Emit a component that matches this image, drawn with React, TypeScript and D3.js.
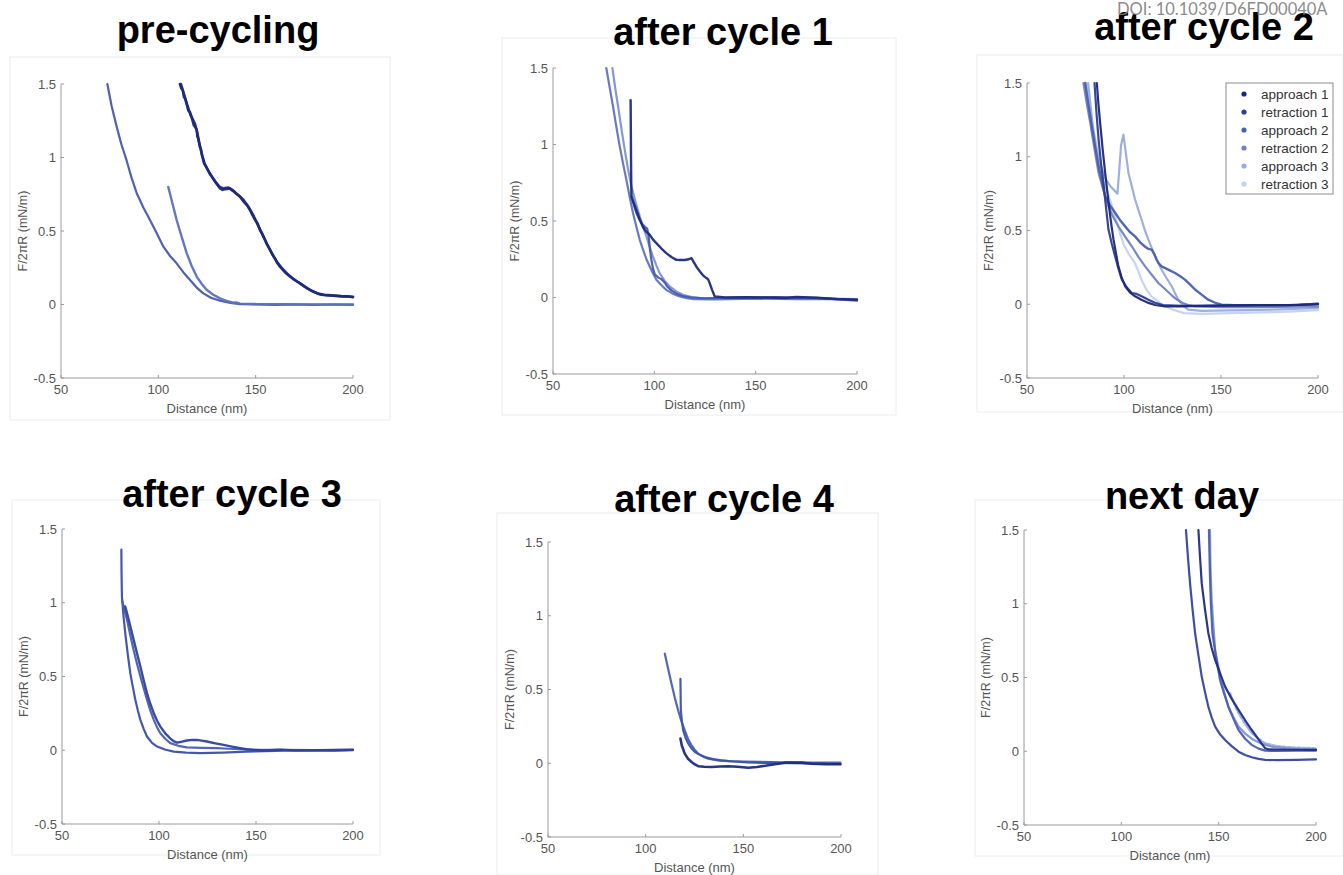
import * as d3 from "d3";
import React from "react";

type Pt = [number, number];

// tick labels
const xTicks = [50, 100, 150, 200];
const yTicks = [1.5, 1, 0.5, 0, -0.5];
const legendNames = ["approach 1", "retraction 1", "approach 2", "retraction 2", "approach 3", "retraction 3"];
const legendColors = ["#1c2878", "#2d3d91", "#4a5fae", "#7083c2", "#98abdc", "#c3d2f0"];

// pre-cycling
const pre_app1: Pt[] = [[111.1,1.5],[111.8,1.47],[112.5,1.46],[113.2,1.41],[113.8,1.4],[115.4,1.32],[116.2,1.31],[117,1.28],[118.2,1.22],[118.8,1.21],[119.7,1.19],[120.1,1.14],[120.5,1.13],[121.4,1.07],[121.8,1.06],[122.2,1.03],[123.5,0.96],[124.5,0.94],[125.3,0.92],[126.5,0.89],[127.5,0.87],[128.5,0.85],[130,0.82],[131.7,0.79],[133,0.78],[134.5,0.785],[136.8,0.79],[138,0.78],[139,0.77],[140,0.755],[142,0.733],[143.2,0.71],[144.5,0.69],[145.6,0.675],[147.1,0.643],[148.3,0.61],[149.5,0.58],[151,0.55],[152.2,0.507],[153.4,0.48],[154.8,0.44],[156,0.405],[157.4,0.371],[158.6,0.34],[160,0.31],[161.2,0.28],[162.5,0.257],[165,0.22],[167.6,0.19],[170.2,0.165],[172.8,0.144],[175.3,0.12],[177.9,0.1],[180.5,0.083],[183,0.069],[186,0.063],[190,0.06],[195,0.054],[197,0.056],[200,0.049]];
const pre_ret1: Pt[] = [[111.6,1.5],[113,1.44],[114.8,1.36],[116.5,1.29],[118.8,1.23],[120,1.17],[121,1.1],[122.6,1.01],[124,0.95],[126,0.9],[129,0.84],[131.5,0.8],[133.5,0.79],[136,0.795],[138.5,0.77],[141,0.745],[143.5,0.715],[146,0.67],[148.5,0.615],[151,0.545],[153.5,0.475],[156,0.405],[158.7,0.34],[161.2,0.285],[164,0.24],[166.5,0.205],[169,0.178],[171.5,0.155],[174,0.133],[176.6,0.11],[179.2,0.09],[182,0.074],[185,0.066],[189,0.062],[194,0.057],[200,0.053]];
const pre_app2: Pt[] = [[73.8,1.5],[76,1.35],[78.6,1.21],[81,1.09],[83.7,0.98],[86.3,0.86],[88.9,0.757],[92.3,0.66],[95.7,0.575],[99,0.49],[102.6,0.393],[106,0.33],[109.4,0.28],[112.8,0.22],[116.3,0.167],[119.7,0.115],[123.1,0.076],[127,0.046],[131.7,0.026],[137,0.01],[142,0.003],[150,0],[160,-0.002],[170,0],[180,-0.002],[190,0],[200,-0.002]];
const pre_ret2: Pt[] = [[105.1,0.8],[107.2,0.69],[109.4,0.575],[112,0.46],[114.6,0.348],[117.2,0.26],[119.7,0.19],[122.3,0.14],[124.8,0.1],[128,0.068],[131.7,0.042],[135,0.025],[138.5,0.012],[140,0.014],[142,0.006],[150,0.003],[165,0.002],[180,0.001],[200,0]];

// after cycle 1
const c1_app1: Pt[] = [[88.3,1.29],[88.4,1.1],[88.5,0.9],[88.6,0.75],[88.7,0.66],[89.8,0.62],[91.1,0.573],[92.8,0.51],[94.4,0.46],[96,0.43],[97.7,0.41],[99.3,0.38],[101,0.355],[103.5,0.32],[105.9,0.29],[108.4,0.265],[110.9,0.246],[113,0.245],[115,0.245],[117,0.25],[118.3,0.257],[119.5,0.23],[120.7,0.203],[122.5,0.17],[124,0.145],[125.7,0.127],[126.5,0.12],[127.3,0.094],[128.5,0.05],[129.8,0.007],[135,0],[145,0.002],[155,0],[165,-0.003],[170,0.003],[180,-0.002],[190,-0.01],[200,-0.015]];
const c1_ret1: Pt[] = [[88.7,0.66],[90,0.6],[91.2,0.55],[92.6,0.51],[94,0.48],[95.5,0.46],[96.5,0.45],[97.2,0.4],[97.8,0.32],[98.5,0.25],[99.3,0.19],[100.3,0.15],[102,0.13],[103.5,0.12],[105,0.1],[106.5,0.07],[108.5,0.045],[111,0.025],[114,0.01],[118,0],[125,-0.005],[140,0],[160,0.002],[180,-0.003],[200,-0.02]];
const c1_app2: Pt[] = [[76.3,1.5],[78,1.37],[79.6,1.25],[81.2,1.12],[82.9,0.99],[84.5,0.88],[86.2,0.77],[87.8,0.66],[89.5,0.55],[91.2,0.46],[92.8,0.377],[94.5,0.31],[96.1,0.25],[98.5,0.18],[101,0.116],[103.5,0.08],[105.9,0.05],[109,0.025],[112.5,0.007],[116,-0.004],[119,-0.01],[130,-0.012],[150,-0.008],[170,-0.01],[185,-0.01],[200,-0.012]];
const c1_ret2: Pt[] = [[79.3,1.5],[80.7,1.37],[82.1,1.25],[83.8,1.1],[85.4,0.965],[87,0.84],[88.7,0.725],[90.8,0.62],[92.8,0.53],[94.5,0.46],[96.1,0.4],[97.7,0.33],[99.3,0.268],[101,0.21],[102.6,0.16],[105,0.11],[107.6,0.072],[110.8,0.04],[114.1,0.018],[118,0.005],[122.4,-0.004],[140,-0.005],[160,-0.004],[180,-0.006],[200,-0.01]];

// after cycle 2
const c2_app1: Pt[] = [[86,1.5],[86.8,1.36],[87.7,1.23],[89,1.05],[90.3,0.89],[91.6,0.74],[92.9,0.596],[93.7,0.52],[94.6,0.438],[95.8,0.35],[97.1,0.257],[98.8,0.18],[100.6,0.122],[103,0.08],[105.7,0.054],[109,0.03],[112.6,0.009],[116,-0.005],[121.1,-0.014],[130,-0.015],[140,-0.012],[150,-0.01],[160,-0.008],[175,-0.006],[190,-0.005],[200,0]];
const c2_ret1: Pt[] = [[84.8,1.5],[85.8,1.3],[86.9,1.116],[88.1,0.96],[89.4,0.82],[90.7,0.66],[92,0.506],[93.7,0.41],[95.4,0.325],[97.2,0.24],[98.9,0.167],[101.4,0.115],[104,0.076],[106.5,0.07],[109.1,0.054],[112.6,0.031],[116,0.01],[120,-0.005],[130,-0.01],[150,-0.008],[170,-0.005],[185,-0.006],[200,0.002]];
const c2_app2: Pt[] = [[80,1.5],[81.7,1.35],[83.4,1.21],[85.1,1.07],[86.9,0.935],[88.6,0.83],[90.3,0.73],[92.8,0.67],[95.4,0.62],[98,0.57],[100.6,0.528],[103,0.49],[105.7,0.46],[108.3,0.42],[110.9,0.39],[112.6,0.375],[114.3,0.37],[115.6,0.34],[116.9,0.3],[118,0.275],[119.4,0.257],[122.8,0.235],[126.3,0.212],[129,0.19],[131.4,0.167],[134,0.135],[136.6,0.1],[140,0.065],[143.4,0.031],[147,0.01],[150.3,-0.003],[160,-0.008],[175,-0.006],[190,-0.004],[200,0.003]];
const c2_ret2: Pt[] = [[79.1,1.5],[80.8,1.36],[82.6,1.23],[84.7,1.06],[86.9,0.89],[89.5,0.77],[92,0.664],[94.5,0.59],[97.1,0.528],[100.5,0.46],[104,0.393],[107.5,0.32],[110.9,0.257],[114.3,0.2],[117.7,0.144],[121.4,0.1],[125.1,0.054],[127.5,0.03],[130.3,0.009],[133,-0.005],[136.6,-0.014],[150,-0.02],[165,-0.02],[180,-0.018],[200,-0.015]];
const c2_app3: Pt[] = [[81.5,1.5],[84,1.2],[87,0.98],[90,0.86],[93,0.8],[96.6,0.75],[97.5,0.9],[98.5,1.08],[99.7,1.15],[101,1.02],[102.3,0.89],[104,0.8],[105.7,0.71],[107.4,0.64],[109.1,0.573],[110.8,0.5],[112.6,0.438],[114.3,0.38],[116,0.325],[117.7,0.28],[119.4,0.234],[122,0.175],[124.6,0.122],[126.3,0.075],[128,0.031],[130.5,-0.01],[133.1,-0.037],[140,-0.045],[155,-0.042],[170,-0.038],[185,-0.033],[200,-0.025]];
const c2_ret3: Pt[] = [[80.5,1.5],[83,1.25],[86,1.0],[89,0.85],[92,0.74],[94,0.66],[96,0.57],[98,0.48],[100,0.4],[102.5,0.34],[105.6,0.28],[107.5,0.22],[109,0.167],[111.5,0.1],[114,0.055],[117.5,0.02],[121,-0.014],[126,-0.04],[131,-0.06],[140,-0.065],[155,-0.06],[170,-0.055],[185,-0.05],[200,-0.04]];

// after cycle 3
const c3_a: Pt[] = [[80.6,1.36],[80.7,1.2],[80.9,1.04],[81.7,0.91],[82.6,0.794],[83.9,0.65],[85.2,0.523],[86.5,0.43],[87.8,0.342],[89.1,0.27],[90.4,0.206],[92.1,0.145],[93.8,0.093],[96.4,0.05],[99,0.025],[103,0.005],[107.6,-0.009],[114,-0.016],[121.3,-0.02],[133,-0.016],[145,-0.009],[160,-0.004],[175,0],[190,-0.002],[200,0]];
const c3_b: Pt[] = [[80.9,1.02],[82.2,0.95],[83.5,0.885],[85.2,0.78],[86.9,0.68],[88.6,0.59],[90.4,0.5],[92.1,0.42],[93.8,0.342],[95.5,0.27],[97.3,0.206],[99,0.155],[100.7,0.115],[103.2,0.078],[105.8,0.048],[110,0.03],[114.4,0.02],[122,0.016],[129.9,0.014],[136,0.01],[141.9,0.007],[150,0.002],[165,0.003],[180,0.001],[200,0.002]];
const c3_c: Pt[] = [[82.6,0.975],[83.5,0.93],[84.4,0.885],[85.6,0.82],[86.9,0.75],[88.6,0.66],[90.4,0.568],[92.1,0.475],[93.8,0.387],[95.5,0.315],[97.3,0.251],[99,0.2],[100.7,0.16],[103.2,0.115],[105.8,0.081],[107.5,0.062],[109.3,0.052],[111.8,0.058],[114.4,0.066],[117,0.07],[119.6,0.07],[122,0.065],[124.7,0.059],[129,0.047],[133.3,0.036],[137.6,0.025],[142,0.014],[145,0.007],[148.8,0.002],[155,-0.002],[162,0.004],[170,-0.002],[185,0],[200,0.003]];

// after cycle 4
const c4_a: Pt[] = [[109.8,0.743],[111.5,0.64],[113.2,0.54],[114.9,0.445],[116.6,0.359],[118.3,0.285],[120,0.223],[121.7,0.165],[123.5,0.121],[125.2,0.09],[126.9,0.065],[129.5,0.045],[132,0.031],[137,0.02],[142.3,0.015],[150,0.012],[159.3,0.009],[170,0.006],[180,0.005],[190,0.004],[199.7,0.005]];
const c4_b: Pt[] = [[117.8,0.573],[117.9,0.46],[118,0.359],[118.6,0.28],[119.2,0.223],[120.5,0.17],[121.8,0.133],[123.5,0.1],[125.2,0.076],[127.7,0.057],[130.3,0.042],[134.5,0.028],[138.8,0.02],[145,0.012],[152,0.006],[160,0.003],[175,0],[190,-0.002],[199.7,-0.005]];
const c4_c: Pt[] = [[117.8,0.167],[118.5,0.12],[120,0.065],[121.7,0.03],[123.5,0.009],[125.2,-0.008],[126.9,-0.02],[130,-0.024],[133.7,-0.025],[138,-0.022],[142.3,-0.02],[147,-0.024],[152.5,-0.03],[157,-0.025],[162.8,-0.014],[167,-0.005],[171.3,0.004],[175,0.005],[179.9,0.004],[185,-0.003],[192,-0.006],[199.7,-0.007]];

// next day
const nd_a: Pt[] = [[133.2,1.5],[134.2,1.32],[135.3,1.138],[136.6,0.96],[137.9,0.8],[139.6,0.65],[141.3,0.506],[143,0.4],[144.7,0.302],[146.4,0.23],[148.2,0.167],[150.7,0.115],[153.3,0.076],[156.7,0.035],[160.2,-0.003],[163.6,-0.025],[167,-0.041],[170.5,-0.052],[173.9,-0.059],[180,-0.06],[190,-0.058],[200,-0.055]];
const nd_b: Pt[] = [[139.6,1.5],[140.4,1.32],[141.3,1.138],[143,0.96],[144.7,0.8],[146.4,0.7],[148.2,0.619],[150.7,0.53],[153.3,0.438],[156.7,0.355],[160.2,0.28],[163.6,0.21],[167,0.144],[170.5,0.08],[173.9,0.02],[175.6,0.013],[180,0.012],[190,0.01],[200,0.009]];
const nd_c: Pt[] = [[145.5,1.5],[145.8,1.25],[146.4,1.025],[147.3,0.85],[148.2,0.686],[149.9,0.57],[151.6,0.46],[153.3,0.38],[155,0.302],[157.6,0.23],[160.2,0.167],[163.6,0.12],[167,0.085],[172,0.05],[178,0.03],[185,0.02],[192,0.015],[200,0.012]];
const nd_d: Pt[] = [[145,1.5],[145.5,1.2],[146,1.0],[146.8,0.8],[148.5,0.65],[150.7,0.483],[152.8,0.39],[155,0.302],[157.6,0.22],[160.2,0.144],[163.6,0.085],[167,0.043],[170.5,0.018],[173.9,0.004],[180,0.002],[190,0.004],[200,0.004]];
const nd_e: Pt[] = [[155.9,0.393],[158,0.32],[160.2,0.257],[163.6,0.185],[167,0.122],[170.5,0.085],[173.9,0.054],[178,0.04],[182.5,0.031],[190,0.025],[200,0.02]];

type Series = { data: Pt[]; color: string; width?: number; dash?: string };
type Panel = {
  title: string; tx: number; ty: number;
  x0: number; x1: number; yTop: number; yBot: number;
  frame: [number, number, number, number];
  series: Series[]; legend?: boolean;
};

const panels: Panel[] = [
  { title: "pre-cycling", tx: 218, ty: 43, x0: 61, x1: 353, yTop: 84, yBot: 378, frame: [10, 57, 380, 363],
    series: [
      { data: pre_app2, color: "#4659ab" },
      { data: pre_ret2, color: "#5c71bd", width: 2.4 },
      { data: pre_ret1, color: "#22307f", width: 2.6 },
      { data: pre_app1, color: "#1c2878", width: 2.6 },
    ] },
  { title: "after cycle 1", tx: 723, ty: 45, x0: 553, x1: 857, yTop: 68, yBot: 374, frame: [502, 38, 394, 377],
    series: [
      { data: c1_ret2, color: "#7e92cf" },
      { data: c1_app2, color: "#5f74bf" },
      { data: c1_ret1, color: "#4659ab" },
      { data: c1_app1, color: "#1f2b7d", width: 2.4 },
    ] },
  { title: "after cycle 2", tx: 1204, ty: 40, x0: 1027, x1: 1318, yTop: 83, yBot: 378, frame: [977, 55, 366, 357],
    legend: true,
    series: [
      { data: c2_ret3, color: legendColors[5] },
      { data: c2_app3, color: legendColors[4] },
      { data: c2_ret2, color: legendColors[3] },
      { data: c2_app2, color: legendColors[2], width: 2.4 },
      { data: c2_ret1, color: legendColors[1] },
      { data: c2_app1, color: legendColors[0] },
    ] },
  { title: "after cycle 3", tx: 232, ty: 507, x0: 62, x1: 353, yTop: 529, yBot: 824, frame: [12, 500, 368, 355],
    series: [
      { data: c3_a, color: "#3b4ea6" },
      { data: c3_b, color: "#4a5db0" },
      { data: c3_c, color: "#2f419b", width: 2.4 },
    ] },
  { title: "after cycle 4", tx: 724, ty: 512, x0: 548, x1: 841, yTop: 542, yBot: 837, frame: [497, 513, 381, 362],
    series: [
      { data: c4_a, color: "#4a5fb0" },
      { data: c4_b, color: "#3d52a8" },
      { data: c4_c, color: "#1e2b80", width: 2.6 },
    ] },
  { title: "next day", tx: 1182, ty: 509, x0: 1024, x1: 1316, yTop: 530, yBot: 825, frame: [975, 500, 368, 356],
    series: [
      { data: nd_e, color: "#9aaee0", dash: "3,2" },
      { data: nd_c, color: "#7d92cf" },
      { data: nd_d, color: "#4a5fb0" },
      { data: nd_a, color: "#3346a0" },
      { data: nd_b, color: "#1f2d85" },
    ] },
];

const font = "'Liberation Sans', Arial, Helvetica, sans-serif";

function ForcePanel({ p }: { p: Panel }) {
  const x = d3.scaleLinear().domain([50, 200]).range([p.x0, p.x1]);
  const y = d3.scaleLinear().domain([-0.5, 1.5]).range([p.yBot, p.yTop]);
  const line = d3.line<Pt>().x(d => x(d[0])).y(d => y(d[1]));
  const axisColor = "#9a9a9a";
  const midY = (p.yTop + p.yBot) / 2;
  return (
    <g>
      <rect x={p.frame[0]} y={p.frame[1]} width={p.frame[2]} height={p.frame[3]} fill="none" stroke="#ececec" />
      <text x={p.tx} y={p.ty} textAnchor="middle" fontFamily={font} fontWeight="bold" fontSize={38} fill="#000">{p.title}</text>
      {/* axes */}
      <line x1={p.x0} x2={p.x1} y1={p.yBot} y2={p.yBot} stroke={axisColor} />
      <line x1={p.x0} x2={p.x0} y1={p.yTop} y2={p.yBot} stroke={axisColor} />
      {xTicks.map(t => (
        <g key={"x" + t}>
          <line x1={x(t)} x2={x(t)} y1={p.yBot} y2={p.yBot - 3} stroke={axisColor} />
          <text x={x(t)} y={p.yBot + 16} textAnchor="middle" fontFamily={font} fontSize={13} fill="#555">{t}</text>
        </g>
      ))}
      {yTicks.map(t => (
        <g key={"y" + t}>
          <line x1={p.x0} x2={p.x0 + 3} y1={y(t)} y2={y(t)} stroke={axisColor} />
          <text x={p.x0 - 5} y={y(t)} dy="0.35em" textAnchor="end" fontFamily={font} fontSize={13} fill="#555">{t}</text>
        </g>
      ))}
      <text x={(p.x0 + p.x1) / 2} y={p.yBot + 35} textAnchor="middle" fontFamily={font} fontSize={13} fill="#555">Distance (nm)</text>
      <text transform={`translate(${p.x0 - 34},${midY}) rotate(-90)`} textAnchor="middle" fontFamily={font} fontSize={12.5} fill="#555">F/2πR (mN/m)</text>
      {/* curves */}
      {p.series.map((s, i) => (
        <path key={i} d={line(s.data) || ""} fill="none" stroke={s.color} strokeWidth={s.width || 2.2}
          strokeDasharray={s.dash} strokeLinejoin="round" strokeLinecap="round" opacity={0.95} />
      ))}
      {p.legend && (
        <g>
          <rect x={1226} y={83} width={107} height={111} fill="#fff" stroke="#8c8c8c" />
          {legendNames.map((n, i) => (
            <g key={n}>
              <circle cx={1244} cy={94 + i * 18} r={2.6} fill={legendColors[i]} />
              <text x={1261} y={94 + i * 18} dy="0.35em" fontFamily={font} fontSize={13.5} fill="#333">{n}</text>
            </g>
          ))}
        </g>
      )}
    </g>
  );
}

export default function App() {
  return (
    <svg width={1343} height={875} style={{ position: "absolute", left: 0, top: 0, background: "#fff" }}>
      <rect width={1343} height={875} fill="#fff" />
      {panels.map(p => <ForcePanel key={p.title} p={p} />)}
      <text x={1117} y={15} fontFamily="Lato, 'Open Sans', sans-serif" fontSize={16.5} fill="#808080" opacity={0.9}>DOI: 10.1039/D6FD00040A</text>
    </svg>
  );
}
